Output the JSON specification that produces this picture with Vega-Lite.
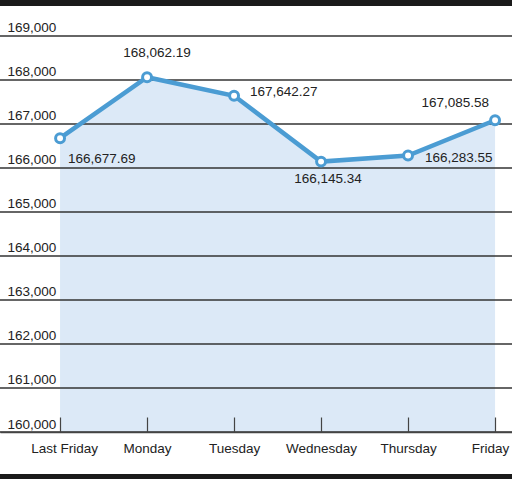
{
  "$schema": "https://vega.github.io/schema/vega-lite/v6.json",
  "width": 512,
  "height": 432,
  "autosize": "none",
  "padding": {"left": 0, "top": 0, "right": 0, "bottom": 47},
  "background": "white",
  "datasets": {
    "days": [
      {"day": "Last Friday", "value": 166677.69},
      {"day": "Monday", "value": 168062.19},
      {"day": "Tuesday", "value": 167642.27},
      {"day": "Wednesday", "value": 166145.34},
      {"day": "Thursday", "value": 166283.55},
      {"day": "Friday", "value": 167085.58}
    ],
    "grid": [
      {"v": 160000}, {"v": 161000}, {"v": 162000}, {"v": 163000}, {"v": 164000},
      {"v": 165000}, {"v": 166000}, {"v": 167000}, {"v": 168000}, {"v": 169000}
    ]
  },
  "layer": [
    {
      "data": {"name": "days"},
      "mark": {"type": "area", "color": "#dce9f7"},
      "encoding": {
        "x": {"field": "day", "type": "ordinal", "sort": null, "title": null,
              "scale": {"type": "point", "padding": 0.4425, "align": 0.78},
              "axis": {"zindex": 1, "labelOffset": {"expr": "datum.label == 'Friday' ? -5 : (datum.label == 'Last Friday' ? 4 : 0)"}}},
        "y": {"field": "value", "type": "quantitative", "title": null,
              "scale": {"domain": [160000, 169818], "nice": false, "zero": false},
              "axis": {"labelExpr": "format(datum.value, ',')", "values": [160000, 161000, 162000, 163000, 164000, 165000, 166000, 167000, 168000, 169000]}},
        "y2": {"datum": 160000}
      }
    },
    {
      "data": {"name": "grid"},
      "mark": {"type": "rule", "color": "#333", "strokeWidth": 1.5},
      "encoding": {"y": {"field": "v", "type": "quantitative", "title": null}}
    },
    {
      "data": {"name": "grid"},
      "transform": [{"filter": "datum.v == 169000"}],
      "mark": {"type": "rule", "color": "#1a1a1a", "strokeWidth": 6},
      "encoding": {"y": {"datum": 169750, "type": "quantitative"}}
    },
    {
      "data": {"name": "grid"},
      "transform": [{"filter": "datum.v == 160000"}],
      "mark": {"type": "rule", "color": "#1a1a1a", "strokeWidth": 5},
      "encoding": {"y": {"datum": 158989, "type": "quantitative"}}
    },
    {
      "data": {"name": "days"},
      "mark": {"type": "line", "color": "#4b9cd3", "strokeWidth": 4.5},
      "encoding": {
        "x": {"field": "day", "type": "ordinal", "sort": null, "title": null},
        "y": {"field": "value", "type": "quantitative", "title": null}
      }
    },
    {
      "data": {"name": "days"},
      "mark": {"type": "point", "filled": true, "fill": "white", "stroke": "#4b9cd3", "strokeWidth": 3, "size": 80, "opacity": 1},
      "encoding": {
        "x": {"field": "day", "type": "ordinal", "sort": null, "title": null},
        "y": {"field": "value", "type": "quantitative", "title": null}
      }
    },
    {
      "data": {"name": "days"},
      "encoding": {
        "x": {"field": "day", "type": "ordinal", "sort": null, "title": null},
        "y": {"field": "value", "type": "quantitative", "title": null},
        "text": {"field": "value", "type": "quantitative", "format": ",.2f"}
      },
      "layer": [
        {
          "transform": [{"filter": "datum.day == 'Last Friday'"}],
          "mark": {"type": "text", "align": "left", "dx": 8, "dy": 21}
        },
        {
          "transform": [{"filter": "datum.day == 'Monday'"}],
          "mark": {"type": "text", "align": "center", "dx": 10, "dy": -24}
        },
        {
          "transform": [{"filter": "datum.day == 'Tuesday'"}],
          "mark": {"type": "text", "align": "left", "dx": 16, "dy": -4}
        },
        {
          "transform": [{"filter": "datum.day == 'Wednesday'"}],
          "mark": {"type": "text", "align": "center", "dx": 7, "dy": 17}
        },
        {
          "transform": [{"filter": "datum.day == 'Thursday'"}],
          "mark": {"type": "text", "align": "left", "dx": 17, "dy": 2}
        },
        {
          "transform": [{"filter": "datum.day == 'Friday'"}],
          "mark": {"type": "text", "align": "right", "dx": -6, "dy": -17}
        }
      ]
    }
  ],
  "config": {
    "view": {"stroke": null},
    "font": "Liberation Sans",
    "text": {"fontSize": 13.5, "color": "#222"},
    "axis": {
      "labelFontSize": 13.5,
      "labelColor": "#222",
      "labelFont": "Liberation Sans"
    },
    "axisX": {
      "labelAngle": 0,
      "domainColor": "#444",
      "domainWidth": 1.5,
      "tickColor": "#444",
      "tickWidth": 1.2,
      "tickSize": -15,
      "labelPadding": 24,
      "labelBaseline": "top",
      "grid": false
    },
    "axisY": {
      "grid": false,
      "domain": false,
      "ticks": false,
      "labelAlign": "left",
      "labelPadding": -7,
      "labelBaseline": "alphabetic",
      "labelOffset": -4,
      "labelFlush": false
    }
  }
}
